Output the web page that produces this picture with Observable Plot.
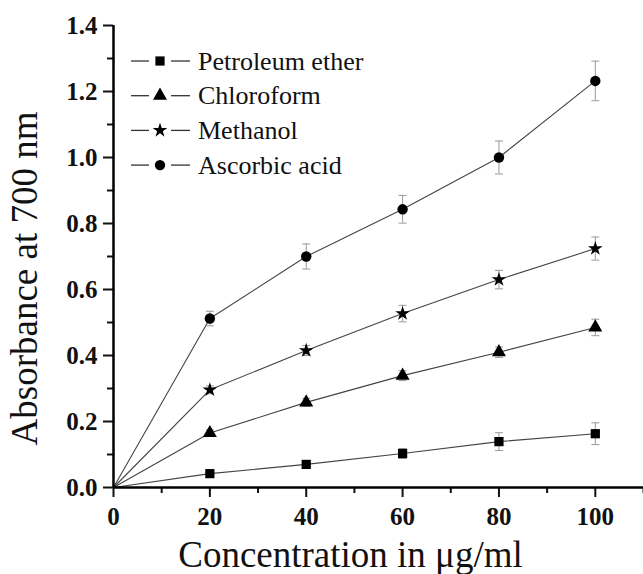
<!DOCTYPE html>
<html>
<head>
<meta charset="utf-8">
<script src="https://cdn.jsdelivr.net/npm/d3@7"></script>
<script src="https://cdn.jsdelivr.net/npm/@observablehq/plot@0.6"></script>
<style>
  html, body { margin: 0; padding: 0; background: #fff; }
  #chart { width: 643px; height: 574px; position: relative; }
</style>
</head>
<body>
<div id="chart"></div>
<script>
// ---- data ----
const concentration = [0, 20, 40, 60, 80, 100];
const seriesNames = ["Petroleum ether", "Chloroform", "Methanol", "Ascorbic acid"];
const petroleumEther    = [0, 0.042, 0.070, 0.103, 0.139, 0.163];
const petroleumEtherErr = [0, 0.008, 0.010, 0.015, 0.027, 0.033];
const chloroform        = [0, 0.165, 0.258, 0.339, 0.410, 0.485];
const chloroformErr     = [0, 0.010, 0.012, 0.015, 0.016, 0.025];
const methanol          = [0, 0.296, 0.415, 0.527, 0.630, 0.724];
const methanolErr       = [0, 0.012, 0.015, 0.025, 0.028, 0.035];
const ascorbicAcid      = [0, 0.512, 0.700, 0.843, 1.000, 1.232];
const ascorbicAcidErr   = [0, 0.022, 0.038, 0.042, 0.050, 0.060];
const xMajorTicks = [0, 20, 40, 60, 80, 100];
const xMinorTicks = [10, 30, 50, 70, 90, 110];
const yMajorTicks = [0, 0.2, 0.4, 0.6, 0.8, 1.0, 1.2, 1.4];
const yMinorTicks = [0.1, 0.3, 0.5, 0.7, 0.9, 1.1, 1.3];
const symbols = ["square", "triangle", "star", "circle"];
const symbolSizes = [5.2, 5.2, 4.6, 5.2];
const xTitle = "Concentration in μg/ml";
const yTitle = "Absorbance at 700 nm";

const seriesValues = [petroleumEther, chloroform, methanol, ascorbicAcid];
const seriesErrors = [petroleumEtherErr, chloroformErr, methanolErr, ascorbicAcidErr];

const rows = [];
seriesNames.forEach((name, s) => {
  concentration.forEach((c, i) => {
    rows.push({series: name, x: c, y: seriesValues[s][i], err: seriesErrors[s][i], size: symbolSizes[s]});
  });
});
const pts = rows.filter(d => d.x > 0);

const capSymbol = {
  draw(context, size) {
    const r = Math.sqrt(size / Math.PI);
    context.moveTo(-r, 0);
    context.lineTo(r, 0);
  }
};

const serif = "'Liberation Serif', 'Times New Roman', 'DejaVu Serif', serif";

const svg = Plot.plot({
  width: 643,
  height: 574,
  marginTop: 25,
  marginBottom: 87,
  marginLeft: 113,
  marginRight: 0,
  style: {fontFamily: serif, background: "#fff", color: "#111", overflow: "visible"},
  x: {domain: [0, 110]},
  y: {domain: [0, 1.4]},
  r: {type: "identity"},
  symbol: {domain: seriesNames, range: symbols},
  marks: [
    Plot.line(rows, {x: "x", y: "y", z: "series", stroke: "#444", strokeWidth: 1.1}),
    Plot.ruleX(pts, {x: "x", y1: d => d.y - d.err, y2: d => d.y + d.err, stroke: "#999", strokeWidth: 1}),
    Plot.dot(pts, {x: "x", y: d => d.y + d.err, symbol: capSymbol, r: 4, stroke: "#999", strokeWidth: 1, fill: "none"}),
    Plot.dot(pts, {x: "x", y: d => d.y - d.err, symbol: capSymbol, r: 4, stroke: "#999", strokeWidth: 1, fill: "none"}),
    Plot.dot(pts, {x: "x", y: "y", symbol: "series", fill: "#000", stroke: "none", r: "size"}),
    Plot.axisX({ticks: xMajorTicks, tickSize: 10, tickPadding: 10, fontSize: 25, fontWeight: "bold", label: null, strokeWidth: 2}),
    Plot.axisX({ticks: xMinorTicks, tickSize: 6, text: null, label: null, strokeWidth: 2}),
    Plot.axisY({ticks: yMajorTicks, tickFormat: d3.format(".1f"), tickSize: 10, tickPadding: 6, fontSize: 25, fontWeight: "bold", label: null, strokeWidth: 2}),
    Plot.axisY({ticks: yMinorTicks, tickSize: 6, text: null, label: null, strokeWidth: 2}),
    Plot.ruleX([0], {stroke: "#000", strokeWidth: 2.5}),
    Plot.ruleY([0], {stroke: "#000", strokeWidth: 2.5}),
    Plot.text([xTitle], {frameAnchor: "bottom", lineAnchor: "bottom", textAnchor: "middle", dx: -28, dy: 79, fontSize: 37, fill: "#111"}),
    Plot.text([yTitle], {frameAnchor: "left", textAnchor: "middle", lineAnchor: "middle", rotate: -90, dx: -88, dy: 22, fontSize: 37, fill: "#111"})
  ]
});

// ---- legend (inside the plot area, upper left) ----
const g = d3.select(svg).append("g").attr("aria-label", "legend").attr("text-anchor", "start");
seriesNames.forEach((name, i) => {
  const cy = 61 + i * 34.7;
  const row = g.append("g");
  row.append("line").attr("x1", 131).attr("x2", 149).attr("y1", cy).attr("y2", cy)
    .attr("stroke", "#333").attr("stroke-width", 1.3);
  row.append("line").attr("x1", 171).attr("x2", 190).attr("y1", cy).attr("y2", cy)
    .attr("stroke", "#333").attr("stroke-width", 1.3);
  const symType = {square: d3.symbolSquare, triangle: d3.symbolTriangle, star: d3.symbolStar, circle: d3.symbolCircle}[symbols[i]];
  row.append("path").attr("d", d3.symbol(symType, symbolSizes[i] * symbolSizes[i] * Math.PI)())
    .attr("transform", `translate(160,${cy})`).attr("fill", "#000");
  row.append("text").attr("x", 198).attr("y", cy).attr("dy", "0.33em").attr("text-anchor", "start")
    .attr("font-size", 26).attr("font-family", serif).attr("fill", "#111").text(name);
});

document.getElementById("chart").appendChild(svg);
</script>
</body>
</html>
